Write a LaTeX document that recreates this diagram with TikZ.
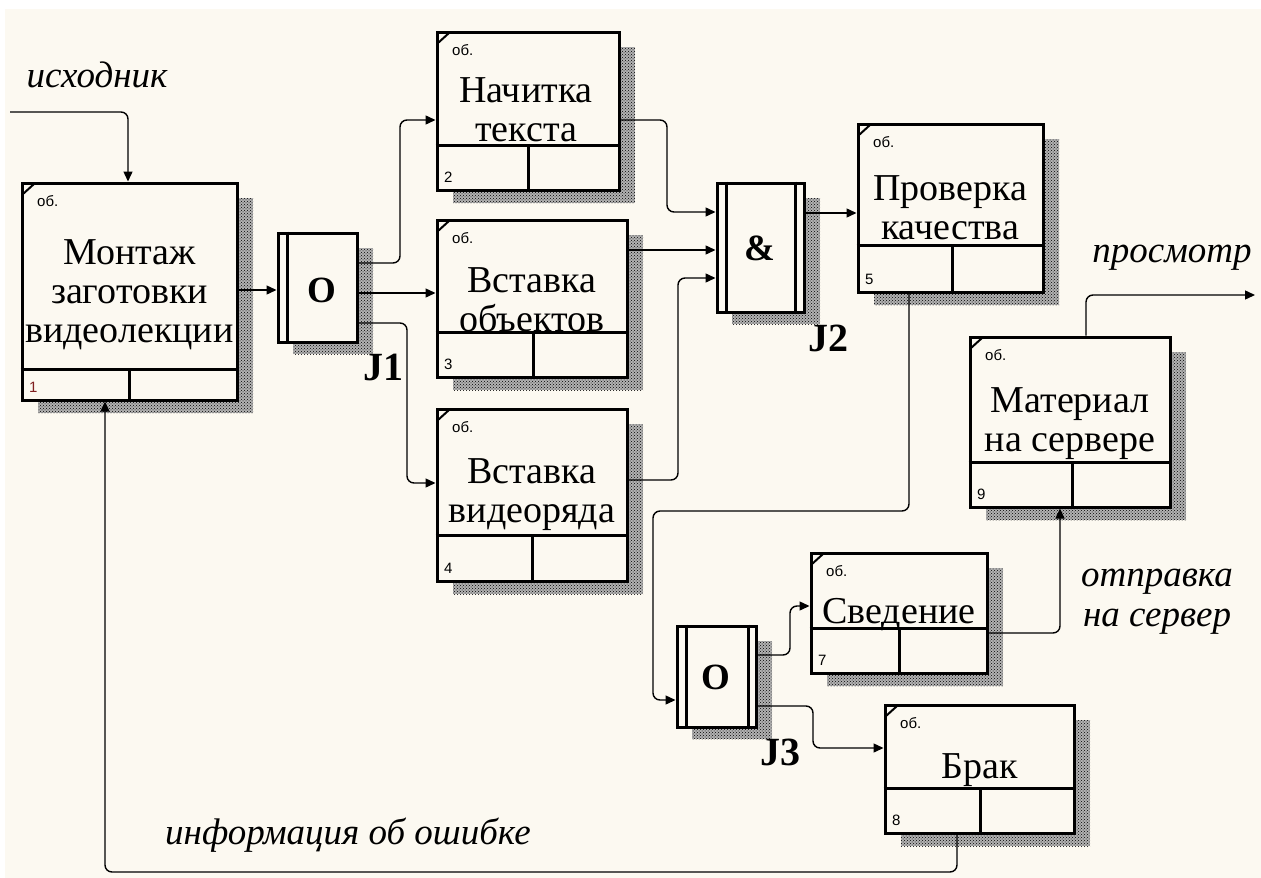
\documentclass[tikz,border=0pt]{standalone}
\usepackage{fontspec}
\setmainfont{Liberation Serif}
\newfontfamily\sansf{Liberation Sans}
\usetikzlibrary{arrows.meta,patterns,calc}
\definecolor{bg}{HTML}{FCF9F1}
\tikzset{
  boxst/.style={draw, line width=3pt, fill=bg, inner sep=0pt},
  shadowbase/.style={fill=black!30},
  shadowdots/.style={pattern=crosshatch dots, pattern color=black},
  divider/.style={line width=3pt},
  conn/.style={line width=1.4pt, rounded corners=7pt, -{Triangle[length=10pt,width=9pt]}},
  ttl/.style={font=\fontsize{38}{39}\selectfont, align=center, inner sep=0pt},
  lbl/.style={font=\fontsize{37}{40}\selectfont\itshape, inner sep=0pt},
  jlbl/.style={font=\fontsize{40}{42}\selectfont\bfseries, inner sep=0pt},
  jsym/.style={font=\fontsize{37}{40}\selectfont\bfseries, inner sep=0pt},
  smalltxt/.style={font=\sansf\fontsize{15}{17}\selectfont, inner sep=0pt, anchor=west},
}
% name, x0, y0, x1, y1, divider y, divider x, number
\newcommand\idefbox[8]{%
  \fill[shadowbase] ({#2+16},{#3+15}) rectangle ({#4+16},{#5+13});
  \fill[shadowdots] ({#2+16},{#3+15}) rectangle ({#4+16},{#5+13});
  \node[boxst, minimum width=#4pt-#2pt, minimum height=#5pt-#3pt] (#1) at ({(#2+#4)/2},{(#3+#5)/2}) {};
  \draw[divider] (#1.west |- 0,#6) -- (#1.east |- 0,#6);
  \draw[divider] (#7,#6) -- (#1.south -| #7,0);
  \draw[line width=2pt] ({#2+1},{#3+11}) -- ({#2+12},{#3+1});
  \node[smalltxt] (#1ob) at ({#2+15},{#3+18}) {об.};
  \node[smalltxt] (#1num) at ({#2+7},{#5-13}) {#8};
}
% name, x0, y0, x1, y1, left inner, right inner (0 = none)
\newcommand\idefjunc[7]{%
  \fill[shadowbase] ({#2+15},{#3+15}) rectangle ({#4+16},{#5+12});
  \fill[shadowdots] ({#2+15},{#3+15}) rectangle ({#4+16},{#5+12});
  \node[boxst, minimum width=#4pt-#2pt, minimum height=#5pt-#3pt] (#1) at ({(#2+#4)/2},{(#3+#5)/2}) {};
  \draw[divider] (#6,0 |- #1.north) -- (#6,0 |- #1.south);
  \ifnum#7>0 \draw[divider] (#7,0 |- #1.north) -- (#7,0 |- #1.south);\fi
}
\begin{document}
\begin{tikzpicture}[x=1pt,y=-1pt]
\useasboundingbox (0,0) rectangle (1261,878);
\fill[bg] (0,0) rectangle (1261,878);
\fill[white] (0,0) rectangle (1261,9);
\fill[white] (0,0) rectangle (5,878);

% activity boxes
\idefbox{b1}{22}{183}{237}{400}{369}{129}{\textcolor[HTML]{802020}{1}}
\idefbox{b2}{437}{32}{619}{190}{145}{528}{2}
\idefbox{b3}{437}{220}{627}{377}{332}{533}{3}
\idefbox{b4}{437}{409}{627}{581}{535}{532}{4}
\idefbox{b5}{858}{124}{1043}{292}{245}{952}{5}
\idefbox{b9}{970}{337}{1170}{507}{462}{1072}{9}
\idefbox{b7}{811}{553}{987}{673}{628}{899}{7}
\idefbox{b8}{885}{705}{1074}{833}{788}{980}{8}

% junctions
\idefjunc{j1}{278}{233}{357}{342}{287}{0}
\idefjunc{j2}{717}{183}{804}{312}{726}{795}
\idefjunc{j3}{677}{626}{756}{727}{686}{748}

% titles
\node[ttl] (t1) at (129.5,295) {Монтаж\\заготовки\\видеолекции};
\node[ttl] (t2) at (526,110) {Начитка\\текста};
\node[ttl] (t3) at (532,300) {Вставка\\объектов};
\node[ttl] (t4) at (532,495) {Вставка\\видеоряда};
\node[ttl] (t5) at (950,208) {Проверка\\качества};
\node[ttl] (t9) at (1070,424) {Материал\\на сервере};
\node[ttl] (t7) at (899,615) {Сведение};
\node[ttl] (t8) at (979.5,770) {Брак};

% junction symbols and labels
\node[jsym] (s1) at (322,290) {O};
\node[jsym] (s2) at (760,248) {\&};
\node[jsym] (s3) at (716,677) {O};
\node[jlbl] (J1) at (383,367) {J1};
\node[jlbl] (J2) at (828,338) {J2};
\node[jlbl] (J3) at (780,752) {J3};

% free ends
\coordinate (src) at (10,112);
\coordinate (out) at (1255,295);

% connectors
\draw[conn] (src) -| (b1.north -| 128,0);
\draw[conn] (b1.east |- 0,290) -- (j1.west |- 0,290);
\draw[conn] (j1.east |- 0,263) -| (400,120) -- (b2.west |- 0,120);
\draw[conn] (j1.east |- 0,293) -- (b3.west |- 0,293);
\draw[conn] (j1.east |- 0,323) -| (407,483) -- (b4.west |- 0,483);
\draw[conn] (b2.east |- 0,120) -| (667,212) -- (j2.west |- 0,212);
\draw[conn] (b3.east |- 0,250) -- (j2.west |- 0,250);
\draw[conn] (b4.east |- 0,480) -| (678,278) -- (j2.west |- 0,278);
\draw[conn] (j2.east |- 0,213) -- (b5.west |- 0,213);
\draw[conn] (b5.south -| 909,0) -- (909,511) -| (653,700) -- (j3.west |- 0,700);
\draw[conn] (j3.east |- 0,655) -| (790,606) -- (b7.west |- 0,606);
\draw[conn] (j3.east |- 0,706) -| (813,748) -- (b8.west |- 0,748);
\draw[conn] (b7.east |- 0,633) -| (b9.south -| 1060,0);
\draw[conn] (b9.north -| 1086,0) |- (out);
\draw[conn] (b8.south -| 957,0) -- (957,872) -- (105,872) -- (b1.south -| 105,0);

% arrow labels
\node[lbl] (l0) at (97,75) {исходник};
\node[lbl] (l1) at (1172,258) {просмотр};
\node[lbl, align=center] (l2) at (1157,602) {отправка\\на сервер};
\node[lbl] (l3) at (348,835) {информация об ошибке};
\end{tikzpicture}
\end{document}
